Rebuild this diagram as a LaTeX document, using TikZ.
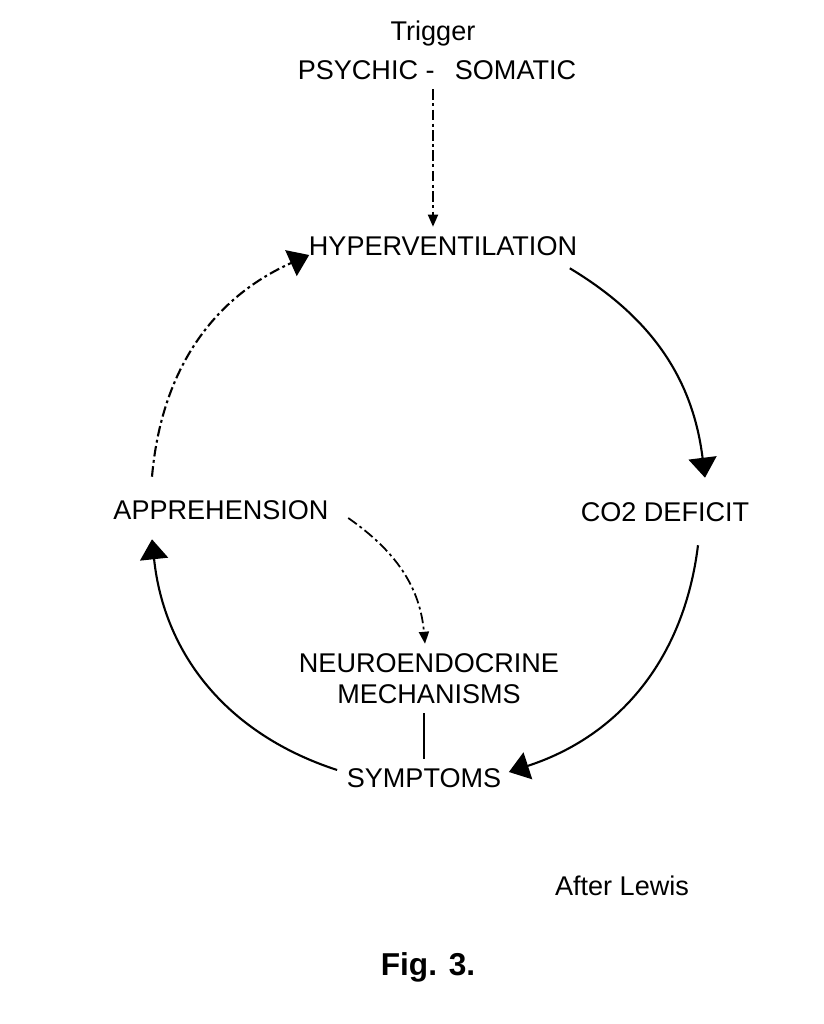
\documentclass[tikz,border=0pt]{standalone}
\usepackage{fontspec}
\setmainfont{Liberation Sans}
\usepackage{tikz}
\usetikzlibrary{arrows.meta}
\tikzset{every node/.style={font=\fontsize{7.7}{8.8}\selectfont,inner sep=0.09cm},
 label/.style={align=center},
 loop/.style={draw,line width=0.6pt,-{Triangle[width=0.28cm,length=0.2cm]}},
 thin arrow/.style={draw,line width=0.5pt,-{Triangle[width=0.1cm,length=0.12cm]}},
 dashdot/.style={dash pattern=on 3pt off 1pt on 0.8pt off 1pt},
 }

\begin{document}
\begin{tikzpicture}
        \useasboundingbox (0,0) rectangle (8.24,10.24);
        \node[label] (trig) at (4.33,9.90) {Trigger};
        \node[label] (psy) at (4.37,9.54) {PSYCHIC -\hspace{0.75em}SOMATIC};
        \node[label] (hyp) at (4.43,7.78) {HYPERVENTILATION};
        \node[label] (app) at (2.21,5.14) {APPREHENSION};
        \node[label] (co2) at (6.65,5.12) {CO2 DEFICIT};
        \node[label] (neuro) at (4.29,3.455) {NEUROENDOCRINE\\MECHANISMS};
        \node[label] (sym) at (4.24,2.46) {SYMPTOMS};
        \node[label] (lewis) at (6.22,1.38) {After Lewis};
        \node[label,font=\fontsize{9}{10}\selectfont\bfseries] (fig) at (4.28,0.57) {Fig. 3.};
        % trigger
        \draw[thin arrow,dashdot] (trig.center |- psy.south) -- (trig.center |- hyp.north);
        % the cycle
        \draw[loop] ([xshift=-0.17cm,yshift=-0.03cm]hyp.south east)
            to[out=-31,in=97] ([xshift=0.4cm,yshift=0.15cm]co2.north);
        \draw[loop] ([xshift=0.33cm,yshift=-0.14cm]co2.south)
            to[out=-97,in=18] ([xshift=-0.02cm,yshift=0.06cm]sym.east);
        \draw[loop] ([yshift=0.08cm]sym.west)
            to[out=162,in=-84] ([xshift=-0.69cm,yshift=-0.1cm]app.south);
        \draw[loop,dashdot] ([xshift=-0.69cm,yshift=0.14cm]app.north)
            to[out=85,in=-156] ([xshift=0.1cm,yshift=-0.09cm]hyp.west);
        % side branch
        \draw[thin arrow,dashdot] ([xshift=0.1cm,yshift=-0.08cm]app.east)
            to[out=-35,in=95] ([xshift=-0.04cm]neuro.north);
        \draw[line width=0.6pt] (sym.north |- neuro.south) -- (sym.north);
    \end{tikzpicture}
\end{document}
